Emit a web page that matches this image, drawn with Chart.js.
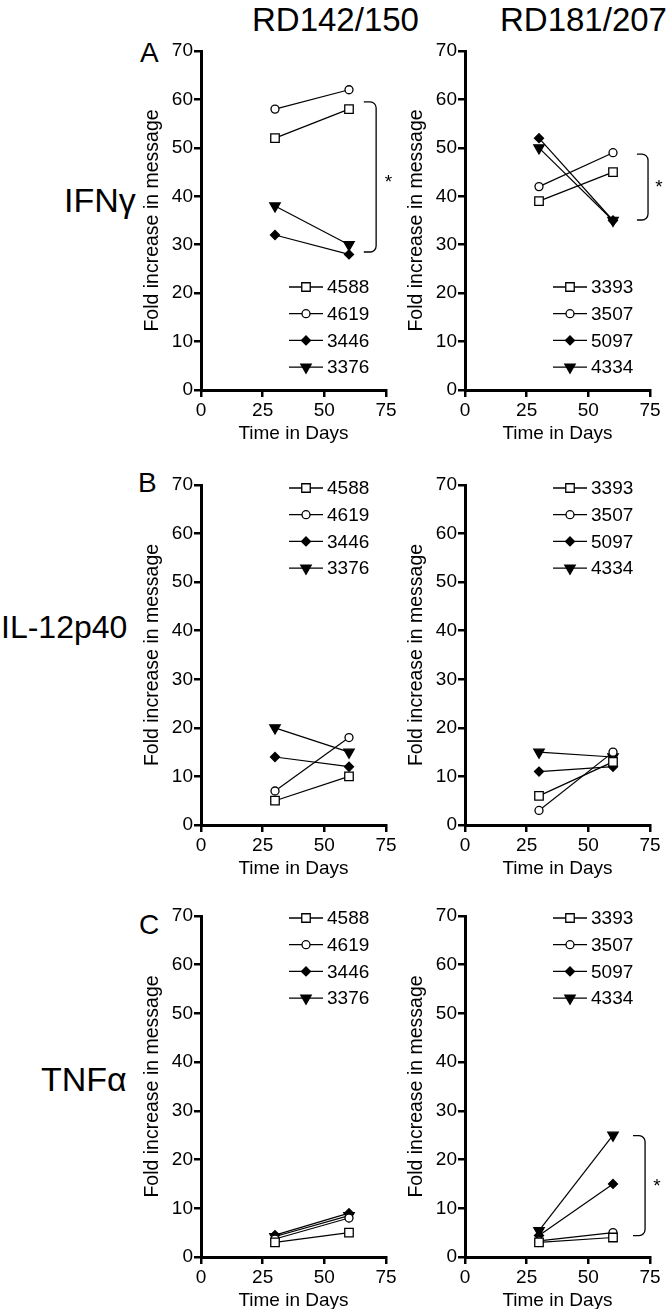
<!DOCTYPE html>
<html>
<head>
<meta charset="utf-8">
<script src="https://cdn.jsdelivr.net/npm/chart.js@4.4.1/dist/chart.umd.min.js"></script>
<style>
  body { margin: 0; background: #fff; width: 666px; height: 1309px; position: relative; overflow: hidden;
         font-family: Arial, "Liberation Sans", sans-serif; color: #000; }
  canvas { position: absolute; }
  .txt { position: absolute; white-space: nowrap; line-height: 1; }
</style>
</head>
<body>
<div class="txt" style="left:252px;top:3px;font-size:33px">RD142/150</div>
<div class="txt" style="left:500px;top:3px;font-size:33px">RD181/207</div>

<div class="txt" style="left:140px;top:39px;font-size:28px">A</div>
<div class="txt" style="left:138px;top:469px;font-size:28px">B</div>
<div class="txt" style="left:139px;top:911px;font-size:28px">C</div>

<div class="txt" style="left:64px;top:183px;font-size:34px">IFNγ</div>
<div class="txt" style="left:1px;top:611px;font-size:32px">IL-12p40</div>
<div class="txt" style="left:41px;top:1062px;font-size:34px">TNFα</div>

<canvas id="a1" width="265" height="410" style="left:135px;top:36px"></canvas>
<canvas id="a2" width="267" height="410" style="left:399px;top:36px"></canvas>
<canvas id="b1" width="265" height="411" style="left:135px;top:470px"></canvas>
<canvas id="b2" width="267" height="411" style="left:399px;top:470px"></canvas>
<canvas id="c1" width="265" height="412" style="left:135px;top:901px"></canvas>
<canvas id="c2" width="267" height="412" style="left:399px;top:901px"></canvas>

<script>
const days = [30, 60];
const idsLeft = ['4588', '4619', '3446', '3376'];
const idsRight = ['3393', '3507', '5097', '4334'];

// fold increase at day 30 and day 60, same order as the ids
const ifnLeft = [[52, 58], [58, 62], [32, 28], [38, 30]];
const ifnRight = [[39, 45], [42, 49], [52, 35], [50, 35]];
const il12Left = [[5, 10], [7, 18], [14, 12], [20, 15]];
const il12Right = [[6, 13], [3, 15], [11, 12], [15, 14]];
const tnfLeft = [[3, 5], [3.7, 8], [4.5, 9], [4.2, 8.5]];
const tnfRight = [[3, 4], [3.3, 5], [4.4, 15], [5.4, 25]];

const xTicks = [0, 25, 50, 75];
const yTicks = [0, 10, 20, 30, 40, 50, 60, 70];

// significance brackets, in data units
const bracketIfnLeft = { x0: 66, x1: 71, top: 59.5, bottom: 28.5, starX: 76, starY: 44 };
const bracketIfnRight = { x0: 69.7, x1: 74.2, top: 48.7, bottom: 35.1, starX: 78.6, starY: 43 };
const bracketTnfRight = { x0: 68.1, x1: 73, top: 24.9, bottom: 4.4, starX: 77.8, starY: 15.6 };

const FONT = 'Arial, "Liberation Sans", sans-serif';
Chart.defaults.font.family = FONT;
Chart.defaults.color = '#000';

const markers = [
  { style: 'rect', r: 6, fill: '#fff', rot: 0 },
  { style: 'circle', r: 4, fill: '#fff', rot: 0 },
  { style: 'rectRot', r: 4.5, fill: '#000', rot: 0 },
  { style: 'triangle', r: 6, fill: '#000', rot: 180 }
];

const lineLegend = {
  id: 'lineLegend',
  afterDatasetsDraw(chart, args, opts) {
    const { ctx, chartArea } = chart;
    ctx.save();
    chart.data.datasets.forEach((ds, i) => {
      const y = chartArea.top + opts.top + i * 26.7;
      const x0 = chartArea.left + 88;
      ctx.strokeStyle = '#000';
      ctx.lineWidth = 1.3;
      ctx.beginPath();
      ctx.moveTo(x0, y);
      ctx.lineTo(x0 + 34, y);
      ctx.stroke();
      ctx.fillStyle = ds.pointBackgroundColor;
      Chart.helpers.drawPoint(ctx, {
        pointStyle: ds.pointStyle, rotation: ds.pointRotation,
        radius: ds.pointRadius, borderWidth: 1.3
      }, x0 + 17, y);
      ctx.fillStyle = '#000';
      ctx.font = '19px ' + FONT;
      ctx.textBaseline = 'middle';
      ctx.fillText(ds.label, x0 + 38, y + 1);
    });
    ctx.restore();
  }
};

const bracket = {
  id: 'bracket',
  afterDraw(chart, args, b) {
    if (!b || b.x0 === undefined) return;
    const { ctx, scales: { x, y } } = chart;
    const x0 = x.getPixelForValue(b.x0), x1 = x.getPixelForValue(b.x1);
    const yt = y.getPixelForValue(b.top), yb = y.getPixelForValue(b.bottom);
    const r = 6;
    ctx.save();
    ctx.strokeStyle = '#000';
    ctx.lineWidth = 1.3;
    ctx.beginPath();
    ctx.moveTo(x0, yt);
    ctx.arcTo(x1, yt, x1, yt + r, r);
    ctx.arcTo(x1, yb, x1 - r, yb, r);
    ctx.lineTo(x0, yb);
    ctx.stroke();
    ctx.fillStyle = '#000';
    ctx.font = '19px ' + FONT;
    ctx.textAlign = 'center';
    ctx.textBaseline = 'alphabetic';
    ctx.fillText('*', x.getPixelForValue(b.starX), y.getPixelForValue(b.starY) + 11);
    ctx.restore();
  }
};

function drawPanel(id, ids, values, legendTop, br, padRight) {
  const datasets = ids.map((label, i) => ({
    label,
    data: days.map((d, j) => ({ x: d, y: values[i][j] })),
    showLine: true,
    borderColor: '#000',
    borderWidth: 1.2,
    pointStyle: markers[i].style,
    pointRadius: markers[i].r,
    pointRotation: markers[i].rot,
    pointBackgroundColor: markers[i].fill,
    pointBorderColor: '#000',
    pointBorderWidth: 1.3
  }));
  new Chart(document.getElementById(id), {
    type: 'scatter',
    data: { datasets },
    options: {
      responsive: false,
      animation: false,
      events: [],
      layout: { padding: { top: 15, right: padRight, left: 0, bottom: 0 } },
      plugins: {
        legend: { display: false },
        tooltip: { enabled: false },
        lineLegend: { top: legendTop },
        bracket: br || {}
      },
      scales: {
        x: {
          type: 'linear',
          min: xTicks[0], max: xTicks[xTicks.length - 1],
          afterBuildTicks: s => { s.ticks = xTicks.map(v => ({ value: v })); },
          afterFit: s => { s.height = 56; },
          border: { color: '#000', width: 3 },
          grid: { drawOnChartArea: false, color: '#000', lineWidth: 2.5, tickLength: 7 },
          ticks: { font: { size: 19 }, padding: 2, maxRotation: 0 },
          title: { display: true, text: 'Time in Days', font: { size: 19 }, padding: { top: 0, bottom: 1 } }
        },
        y: {
          type: 'linear',
          min: yTicks[0], max: yTicks[yTicks.length - 1],
          afterBuildTicks: s => { s.ticks = yTicks.map(v => ({ value: v })); },
          afterFit: s => { s.width = 66; },
          border: { color: '#000', width: 3 },
          grid: { drawOnChartArea: false, color: '#000', lineWidth: 2.5, tickLength: 7 },
          ticks: { font: { size: 19 }, padding: 1 },
          title: { display: true, text: 'Fold increase in message', font: { size: 19.5 }, padding: { top: 6, bottom: 0 } }
        }
      }
    },
    plugins: [lineLegend, bracket]
  });
}

drawPanel('a1', idsLeft, ifnLeft, 236, bracketIfnLeft, 14);
drawPanel('a2', idsRight, ifnRight, 236, bracketIfnRight, 16);
drawPanel('b1', idsLeft, il12Left, 3, null, 14);
drawPanel('b2', idsRight, il12Right, 3, null, 16);
drawPanel('c1', idsLeft, tnfLeft, 2, null, 14);
drawPanel('c2', idsRight, tnfRight, 2, bracketTnfRight, 16);
</script>
</body>
</html>
